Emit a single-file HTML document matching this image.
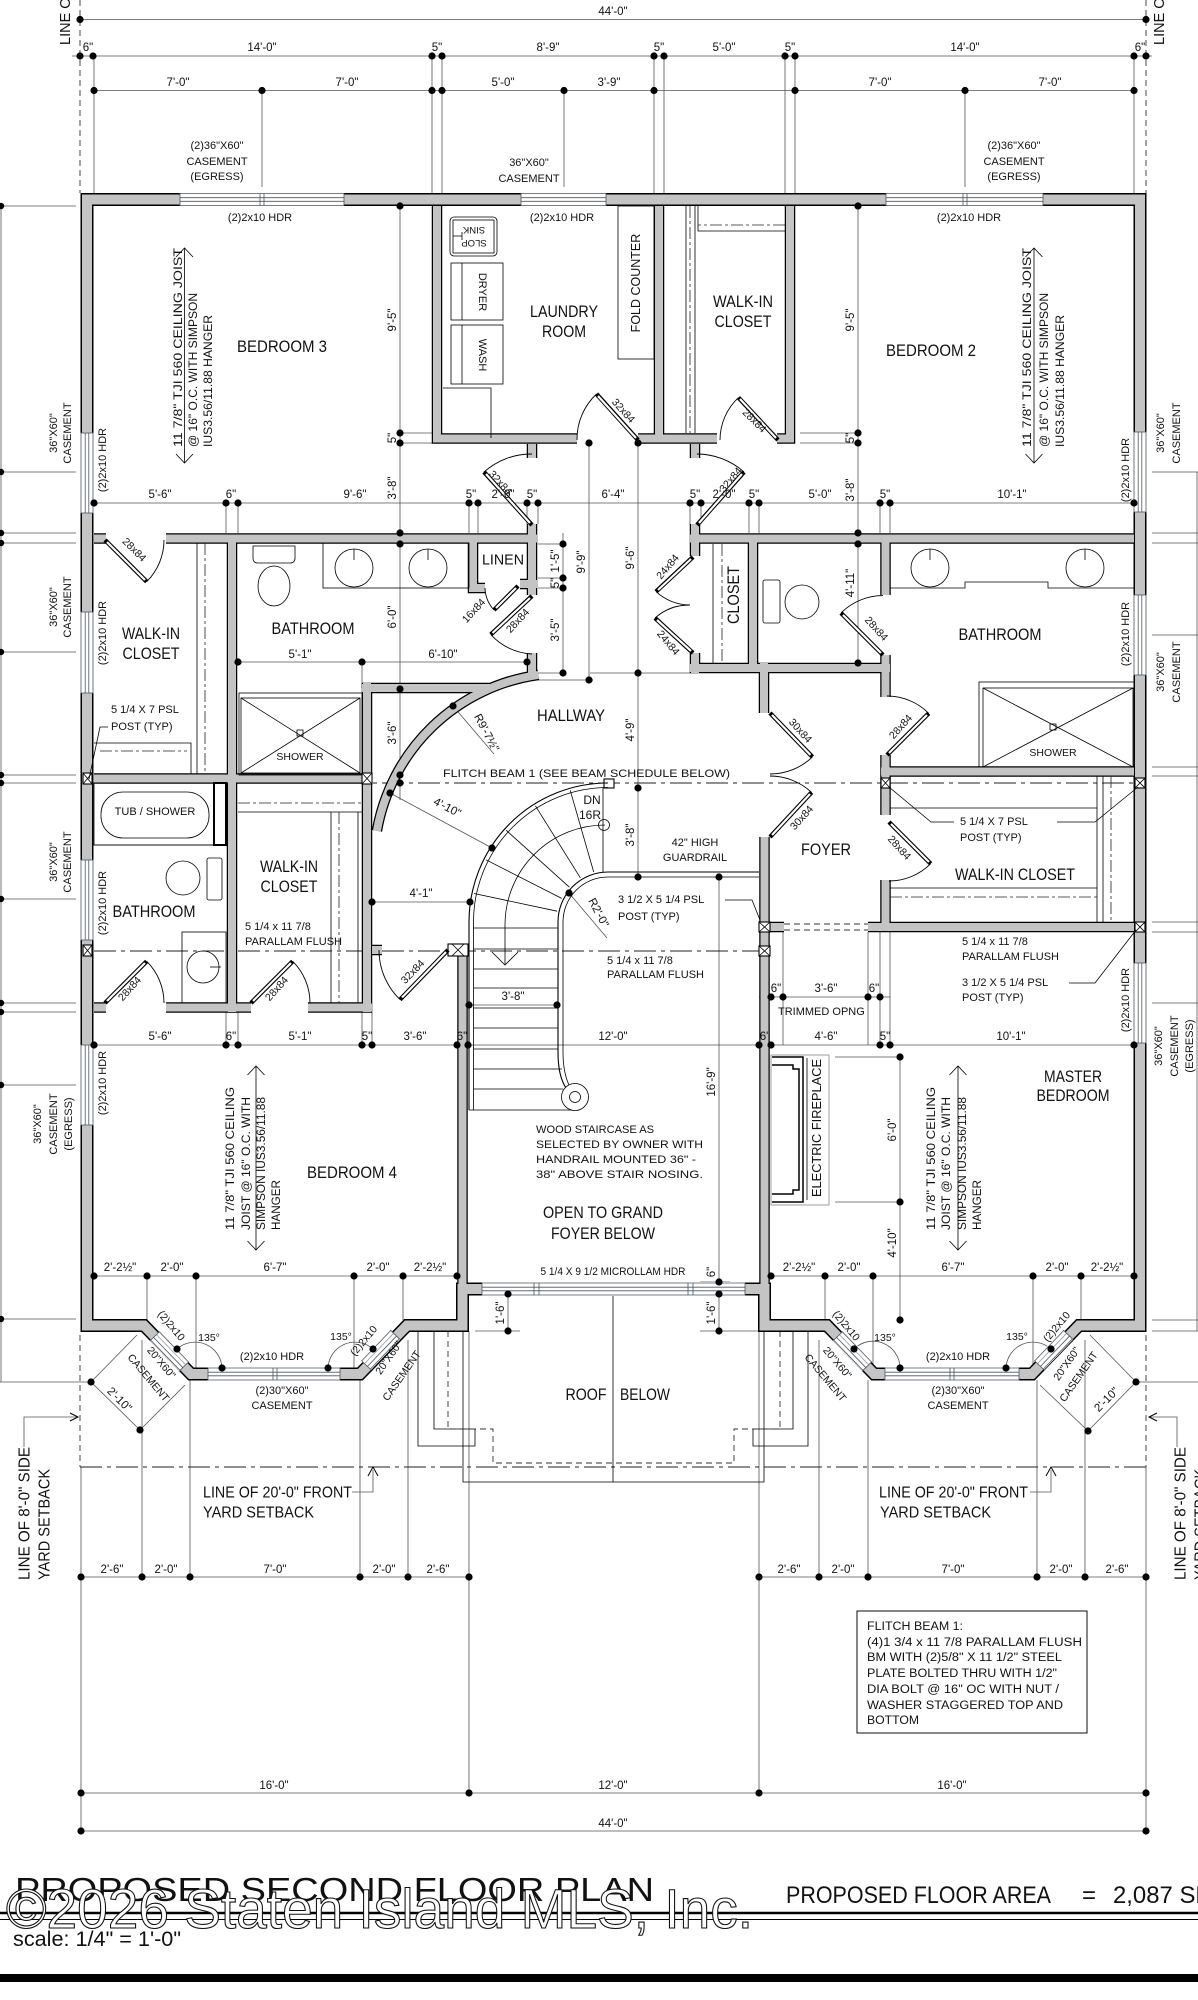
<!DOCTYPE html>
<html><head><meta charset="utf-8"><title>Proposed Second Floor Plan</title>
<style>
html,body{margin:0;padding:0;background:#fff}
svg{display:block}
text{font-family:"Liberation Sans",Arial,sans-serif;fill:#111;dominant-baseline:central}
.d{font-size:11.5px;text-anchor:middle}
.s{font-size:10.5px;text-anchor:middle}
.n{font-size:11px}
.nc{font-size:11px;text-anchor:middle}
.r{font-size:16.5px;text-anchor:middle}
.ln{stroke:#555;stroke-width:.8;fill:none}
.k{stroke:#000;stroke-width:1;fill:none}
.k8{stroke:#000;stroke-width:.8;fill:none}
.kk{stroke:#000;stroke-width:1.5;fill:none}
.dd{stroke:#222;stroke-width:1;fill:none;stroke-dasharray:22 5 4 5}
.da{stroke:#333;stroke-width:.9;fill:none;stroke-dasharray:6 4}
.ws{stroke:#000;stroke-width:13;fill:none;stroke-linejoin:miter;stroke-linecap:square}
.wf{stroke:#c4c4c4;stroke-width:10;fill:none;stroke-linejoin:miter;stroke-linecap:square}
.wi{stroke:#000;stroke-width:10.5;fill:none;stroke-linecap:butt}
.wif{stroke:#c4c4c4;stroke-width:8;fill:none;stroke-linecap:butt}
.lf{stroke:#000;stroke-width:4.4}
.lfw{stroke:#fff;stroke-width:2.2}
.arc{stroke:#000;stroke-width:.9;fill:none}
.win rect.b{fill:#fff;stroke:none}
.win line{stroke:#4a5560;stroke-width:.8}
</style></head><body>
<svg width="1198" height="2000" viewBox="0 0 1198 2000" xmlns="http://www.w3.org/2000/svg">
<rect width="1198" height="2000" fill="#fff"/>

<!-- ===== DIMENSION LINES ===== -->
<g class="ln">
<line x1="80" y1="19.5" x2="1146" y2="19.5"/>
<line x1="72" y1="56" x2="1152" y2="56"/>
<line x1="94" y1="90.5" x2="1134" y2="90.5"/>
<path d="M94 56V193M432 56V193M442 56V193M654 56V193M664 56V193M785 56V193M795 56V193M1134 56V193M262 90V187M564 90V187M965 90V187"/>
<line x1="94" y1="503" x2="1134" y2="503"/>
<path d="M226 503V533M238 503V533M469 503V533M478 503V533M527 503V524M538 503V524M690 503V524M701 503V524M749 503V533M759 503V533M880 503V533M890 503V533"/>
<line x1="400" y1="206" x2="400" y2="800"/>
<path d="M400 433H432M400 443H432"/>
<line x1="563" y1="533" x2="563" y2="673"/>
<path d="M538 544H563M538 578H563M538 588H563M538 673H563"/>
<line x1="589" y1="443" x2="589" y2="680"/>
<path d="M537 680H593"/>
<line x1="638" y1="443" x2="638" y2="877"/>
<path d="M590 673H690"/>
<line x1="858" y1="206" x2="858" y2="663"/>
<path d="M800 433H858M800 443H858"/>
<line x1="238" y1="662" x2="527" y2="662"/>
<path d="M362 662V688"/>
<line x1="372" y1="902" x2="470" y2="902"/>
<line x1="469" y1="1005" x2="557" y2="1005"/>
<line x1="94" y1="1045" x2="1134" y2="1045"/>
<path d="M226 1012V1045M238 1012V1045M362 1012V1045M372 1012V1045M880 932V1045M890 932V1045M783 932V1045M868 932V1045"/>
<line x1="759" y1="997" x2="890" y2="997"/>
<line x1="719" y1="877" x2="719" y2="1331"/>
<path d="M700 1282H730M700 1331H760M700 1294H730"/>
<line x1="508" y1="1294" x2="508" y2="1331"/>
<path d="M475 1331H520"/>
<line x1="900" y1="1057" x2="900" y2="1320"/>
<path d="M835 1057H900M835 1202H900"/>
<line x1="94" y1="1276" x2="457" y2="1276"/>
<line x1="771" y1="1276" x2="1134" y2="1276"/>
<path d="M147 1276V1320M196 1276V1368M354 1276V1368M403 1276V1320M825 1276V1320M873 1276V1368M1033 1276V1368M1081 1276V1320"/>
<path d="M142 1340V1577M190 1380V1577M360 1380V1577M408 1340V1577M819 1340V1577M868 1380V1577M1037 1380V1577M1085 1340V1577"/>
<path d="M469 1331V1793M759 1331V1793M81 1467V1831M1146 1467V1831"/>
<line x1="81" y1="1577" x2="469" y2="1577"/>
<line x1="759" y1="1577" x2="1146" y2="1577"/>
<line x1="81" y1="1793" x2="1146" y2="1793"/>
<line x1="81" y1="1831" x2="1146" y2="1831"/>
<!-- bay angle arcs -->
<path d="M177 1349A27 27 0 0 1 222 1368M328 1368A27 27 0 0 1 373 1349M854 1349A27 27 0 0 1 900 1368M1006 1368A27 27 0 0 1 1051 1349"/>
<!-- 2'-10 dims -->
<path d="M91 1382L140 1430M91 1382L137 1335M140 1430L185 1385M0 1382H91"/>
<path d="M1136 1382L1088 1431M1136 1382L1090 1335M1088 1431L1040 1385M1136 1382H1198"/>
<!-- left edge dims -->
<path d="M1 206V1382M0 206H76M0 472H76M0 533H76M0 543H76M0 652H76M0 775H76M0 783H76M0 899H76M0 1003H76M0 1012H76M0 1085H76M0 1319H76"/>
<path d="M1197 472V1331M1152 472H1198M1152 533H1198M1152 543H1198M1152 635H1198M1152 767H1198M1152 776H1198M1152 922H1198M1152 932H1198M1152 1003H1198M1152 1320H1198M1152 1331H1198"/>
<!-- stair dims -->
<path d="M390 793L492 848M453 706L494 754M569 893L607 938"/>
<path d="M352 1492H373V1470M1030 1492H1051V1470"/>
<path d="M24 1447V1417H77M1177 1447V1417H1149"/>
</g>
<path d="M368 1476L373 1467L378 1476M1046 1476L1051 1467L1056 1476M70 1413L78 1417L70 1421M1157 1413L1149 1417L1157 1421" class="k"/>
<!-- dashed property lines -->
<path d="M80 0V193M1146 0V193M80 1335V1467M1146 1335V1467" class="da" stroke-dasharray="9 5"/>
<line x1="80" y1="1467" x2="1146" y2="1467" class="dd"/>
<line x1="94" y1="783" x2="1134" y2="783" class="dd"/>
<line x1="94" y1="951" x2="764" y2="951" class="dd"/>
<path d="M784 924H868M784 930H868" class="da"/>

<!-- ===== ROOF BELOW ===== -->
<g class="k8">
<path d="M463 1331V1482H764V1331"/>
<line x1="613" y1="1295" x2="613" y2="1482"/>
<path d="M418 1331V1446H475V1429H434V1331"/>
<path d="M808 1331V1446H753V1429H793V1331"/>
</g>
<path d="M448 1331V1429H493V1463H734V1429H780V1331" class="da" stroke-dasharray="6 3"/>

<!-- ===== WALLS ===== -->
<defs>
<path id="ext" d="M482 1289H462.5V1325.5H407L360 1374H191L144 1325.5H87V199.5H1140V1325.5H1079L1032 1374H874L827 1325.5H764.5V1289H745"/>
<path id="int" d="M437 206V438.5H577M532 444V458M659 206V438.5M638 438.5H717M695 444V458M790 206V438.5H777M94 538.5H106M166 538.5H537M532 524V595M232 538V1012M473 538V588H485M520 584H537M532 653V675M362 688H491M367 683V1012M372 950H382M94 778.5H367M94 1007.5H106M166 1007.5H251M308 1007.5H372M690 538.5H1134M695 524V556M690 668H890M695 653V673M753 538V668M764 663V713M885.5 538V595M885.5 655V697M885.5 755V815M885.5 880V927M881 771.5H1134M759 927H784M868 927H1134M462.5 944V1289M764.5 837V1289M538.4 674.9A191 191 0 0 0 376.9 830.8"/>
</defs>
<use href="#ext" class="ws"/>
<use href="#int" class="wi"/>
<use href="#ext" class="wf"/>
<use href="#int" class="wif"/>

<!-- ===== WINDOWS ===== -->
<g class="win">
<g transform="translate(180,199.5)"><rect class="b" x="0" y="-7" width="164" height="14"/><line x1="0" y1="-6" x2="164" y2="-6"/><line x1="0" y1="6" x2="164" y2="6"/><line x1="0" y1="-1.8" x2="164" y2="-1.8"/><line x1="0" y1="1.8" x2="164" y2="1.8"/><line x1="0" y1="-6.5" x2="0" y2="6.5"/><line x1="164" y1="-6.5" x2="164" y2="6.5"/><line x1="80" y1="-6" x2="80" y2="6"/><line x1="84" y1="-6" x2="84" y2="6"/></g>
<g transform="translate(521,199.5)"><rect class="b" x="0" y="-7" width="85" height="14"/><line x1="0" y1="-6" x2="85" y2="-6"/><line x1="0" y1="6" x2="85" y2="6"/><line x1="0" y1="-1.8" x2="85" y2="-1.8"/><line x1="0" y1="1.8" x2="85" y2="1.8"/><line x1="0" y1="-6.5" x2="0" y2="6.5"/><line x1="85" y1="-6.5" x2="85" y2="6.5"/></g>
<g transform="translate(886,199.5)"><rect class="b" x="0" y="-7" width="157" height="14"/><line x1="0" y1="-6" x2="157" y2="-6"/><line x1="0" y1="6" x2="157" y2="6"/><line x1="0" y1="-1.8" x2="157" y2="-1.8"/><line x1="0" y1="1.8" x2="157" y2="1.8"/><line x1="0" y1="-6.5" x2="0" y2="6.5"/><line x1="157" y1="-6.5" x2="157" y2="6.5"/><line x1="77" y1="-6" x2="77" y2="6"/><line x1="81" y1="-6" x2="81" y2="6"/></g>
<g transform="translate(87,433) rotate(90)"><rect class="b" x="0" y="-7" width="80" height="14"/><line x1="0" y1="-6" x2="80" y2="-6"/><line x1="0" y1="6" x2="80" y2="6"/><line x1="0" y1="-1.8" x2="80" y2="-1.8"/><line x1="0" y1="1.8" x2="80" y2="1.8"/><line x1="0" y1="-6.5" x2="0" y2="6.5"/><line x1="80" y1="-6.5" x2="80" y2="6.5"/></g>
<g transform="translate(87,612) rotate(90)"><rect class="b" x="0" y="-7" width="81" height="14"/><line x1="0" y1="-6" x2="81" y2="-6"/><line x1="0" y1="6" x2="81" y2="6"/><line x1="0" y1="-1.8" x2="81" y2="-1.8"/><line x1="0" y1="1.8" x2="81" y2="1.8"/><line x1="0" y1="-6.5" x2="0" y2="6.5"/><line x1="81" y1="-6.5" x2="81" y2="6.5"/></g>
<g transform="translate(87,860) rotate(90)"><rect class="b" x="0" y="-7" width="80" height="14"/><line x1="0" y1="-6" x2="80" y2="-6"/><line x1="0" y1="6" x2="80" y2="6"/><line x1="0" y1="-1.8" x2="80" y2="-1.8"/><line x1="0" y1="1.8" x2="80" y2="1.8"/><line x1="0" y1="-6.5" x2="0" y2="6.5"/><line x1="80" y1="-6.5" x2="80" y2="6.5"/></g>
<g transform="translate(87,1045) rotate(90)"><rect class="b" x="0" y="-7" width="80" height="14"/><line x1="0" y1="-6" x2="80" y2="-6"/><line x1="0" y1="6" x2="80" y2="6"/><line x1="0" y1="-1.8" x2="80" y2="-1.8"/><line x1="0" y1="1.8" x2="80" y2="1.8"/><line x1="0" y1="-6.5" x2="0" y2="6.5"/><line x1="80" y1="-6.5" x2="80" y2="6.5"/></g>
<g transform="translate(1140,432) rotate(90)"><rect class="b" x="0" y="-7" width="80" height="14"/><line x1="0" y1="-6" x2="80" y2="-6"/><line x1="0" y1="6" x2="80" y2="6"/><line x1="0" y1="-1.8" x2="80" y2="-1.8"/><line x1="0" y1="1.8" x2="80" y2="1.8"/><line x1="0" y1="-6.5" x2="0" y2="6.5"/><line x1="80" y1="-6.5" x2="80" y2="6.5"/></g>
<g transform="translate(1140,595) rotate(90)"><rect class="b" x="0" y="-7" width="80" height="14"/><line x1="0" y1="-6" x2="80" y2="-6"/><line x1="0" y1="6" x2="80" y2="6"/><line x1="0" y1="-1.8" x2="80" y2="-1.8"/><line x1="0" y1="1.8" x2="80" y2="1.8"/><line x1="0" y1="-6.5" x2="0" y2="6.5"/><line x1="80" y1="-6.5" x2="80" y2="6.5"/></g>
<g transform="translate(1140,963) rotate(90)"><rect class="b" x="0" y="-7" width="80" height="14"/><line x1="0" y1="-6" x2="80" y2="-6"/><line x1="0" y1="6" x2="80" y2="6"/><line x1="0" y1="-1.8" x2="80" y2="-1.8"/><line x1="0" y1="1.8" x2="80" y2="1.8"/><line x1="0" y1="-6.5" x2="0" y2="6.5"/><line x1="80" y1="-6.5" x2="80" y2="6.5"/></g>
<g transform="translate(482,1289)"><rect class="b" x="0" y="-7" width="263" height="14"/><line x1="0" y1="-6" x2="263" y2="-6"/><line x1="0" y1="6" x2="263" y2="6"/><line x1="0" y1="-1.8" x2="263" y2="-1.8"/><line x1="0" y1="1.8" x2="263" y2="1.8"/><line x1="0" y1="-6.5" x2="0" y2="6.5"/><line x1="263" y1="-6.5" x2="263" y2="6.5"/><line x1="52" y1="-6" x2="52" y2="6"/><line x1="57" y1="-6" x2="57" y2="6"/><line x1="206" y1="-6" x2="206" y2="6"/><line x1="211" y1="-6" x2="211" y2="6"/></g>
<!-- bay windows -->
<g transform="translate(155,1336) rotate(45.9)"><rect class="b" x="0" y="-7" width="42" height="14"/><line x1="0" y1="-6" x2="42" y2="-6"/><line x1="0" y1="6" x2="42" y2="6"/><line x1="0" y1="-2" x2="42" y2="-2" stroke-width="2" style="stroke:#999"/><line x1="0" y1="2" x2="42" y2="2"/><line x1="0" y1="-6.5" x2="0" y2="6.5"/><line x1="42" y1="-6.5" x2="42" y2="6.5"/></g>
<g transform="translate(208,1374)"><rect class="b" x="0" y="-7" width="132" height="14"/><line x1="0" y1="-6" x2="132" y2="-6"/><line x1="0" y1="6" x2="132" y2="6"/><line x1="0" y1="-1.8" x2="132" y2="-1.8"/><line x1="0" y1="1.8" x2="132" y2="1.8"/><line x1="0" y1="-6.5" x2="0" y2="6.5"/><line x1="132" y1="-6.5" x2="132" y2="6.5"/><line x1="65" y1="-6" x2="65" y2="6"/><line x1="69" y1="-6" x2="69" y2="6"/></g>
<g transform="translate(366,1365) rotate(-46.2)"><rect class="b" x="0" y="-7" width="42" height="14"/><line x1="0" y1="-6" x2="42" y2="-6"/><line x1="0" y1="6" x2="42" y2="6"/><line x1="0" y1="-2" x2="42" y2="-2" stroke-width="2" style="stroke:#999"/><line x1="0" y1="2" x2="42" y2="2"/><line x1="0" y1="-6.5" x2="0" y2="6.5"/><line x1="42" y1="-6.5" x2="42" y2="6.5"/></g>
<g transform="translate(838,1336) rotate(45.9)"><rect class="b" x="0" y="-7" width="42" height="14"/><line x1="0" y1="-6" x2="42" y2="-6"/><line x1="0" y1="6" x2="42" y2="6"/><line x1="0" y1="-2" x2="42" y2="-2" stroke-width="2" style="stroke:#999"/><line x1="0" y1="2" x2="42" y2="2"/><line x1="0" y1="-6.5" x2="0" y2="6.5"/><line x1="42" y1="-6.5" x2="42" y2="6.5"/></g>
<g transform="translate(885,1374)"><rect class="b" x="0" y="-7" width="134" height="14"/><line x1="0" y1="-6" x2="134" y2="-6"/><line x1="0" y1="6" x2="134" y2="6"/><line x1="0" y1="-1.8" x2="134" y2="-1.8"/><line x1="0" y1="1.8" x2="134" y2="1.8"/><line x1="0" y1="-6.5" x2="0" y2="6.5"/><line x1="134" y1="-6.5" x2="134" y2="6.5"/><line x1="65" y1="-6" x2="65" y2="6"/><line x1="69" y1="-6" x2="69" y2="6"/></g>
<g transform="translate(1039,1365) rotate(-46.2)"><rect class="b" x="0" y="-7" width="42" height="14"/><line x1="0" y1="-6" x2="42" y2="-6"/><line x1="0" y1="6" x2="42" y2="6"/><line x1="0" y1="-2" x2="42" y2="-2" stroke-width="2" style="stroke:#999"/><line x1="0" y1="2" x2="42" y2="2"/><line x1="0" y1="-6.5" x2="0" y2="6.5"/><line x1="42" y1="-6.5" x2="42" y2="6.5"/></g>
</g>

<!-- ===== POSTS ===== -->
<g fill="#fff" stroke="#000" stroke-width="1.1">
<rect x="83" y="773" width="9" height="11"/><rect x="362" y="773" width="10" height="11"/><rect x="83" y="945" width="9" height="11"/><rect x="448" y="944" width="20" height="12"/><rect x="759" y="922" width="11" height="10"/><rect x="759" y="946" width="11" height="10"/><rect x="881" y="778" width="9" height="10"/><rect x="1135" y="778" width="10" height="10"/><rect x="1135" y="922" width="10" height="10"/><rect x="604" y="779" width="10" height="9"/>
</g>
<path class="k8" d="M83 773L92 784M92 773L83 784M362 773L372 784M372 773L362 784M83 945L92 956M92 945L83 956M452 944L464 956M464 944L452 956M759 922L770 932M770 922L759 932M759 946L770 956M770 946L759 956M881 778L890 788M890 778L881 788M1135 778L1145 788M1145 778L1135 788M1135 922L1145 932M1145 922L1135 932"/>

<!-- ===== DOORS ===== -->
<g>
<line class="lf" x1="638" y1="440" x2="596.5" y2="394"/><line class="lfw" x1="636" y1="438" x2="598" y2="396"/>
<line class="lf" x1="532" y1="525" x2="484" y2="472"/><line class="lfw" x1="530" y1="523" x2="486" y2="474"/>
<line class="lf" x1="697" y1="525" x2="744" y2="472"/><line class="lfw" x1="699" y1="523" x2="742" y2="474"/>
<line class="lf" x1="778" y1="440" x2="738.5" y2="397.6"/><line class="lfw" x1="776" y1="438" x2="740" y2="399"/>
<line class="lf" x1="105" y1="540" x2="146.7" y2="581.7"/><line class="lfw" x1="107" y1="542" x2="145" y2="580"/>
<line class="lf" x1="518" y1="586" x2="494" y2="610"/><line class="lfw" x1="516" y1="588" x2="496" y2="608"/>
<line class="lf" x1="532" y1="596" x2="490.8" y2="634.5"/><line class="lfw" x1="530" y1="598" x2="492.5" y2="633"/>
<line class="lf" x1="693" y1="557" x2="656" y2="591.6"/><line class="lfw" x1="691" y1="559" x2="658" y2="590"/>
<line class="lf" x1="693" y1="653" x2="655" y2="618"/><line class="lfw" x1="691" y1="651" x2="657" y2="620"/>
<line class="lf" x1="883" y1="655" x2="841" y2="613"/><line class="lfw" x1="881" y1="653" x2="843" y2="615"/>
<line class="lf" x1="770" y1="713" x2="812.4" y2="756.9"/><line class="lfw" x1="772" y1="715" x2="810.5" y2="755"/>
<line class="lf" x1="770" y1="837" x2="811.6" y2="792.4"/><line class="lfw" x1="772" y1="835" x2="810" y2="794"/>
<line class="lf" x1="887" y1="755" x2="928.7" y2="713.3"/><line class="lfw" x1="889" y1="753" x2="927" y2="715"/>
<line class="lf" x1="889" y1="822" x2="930.7" y2="863.7"/><line class="lfw" x1="891" y1="824" x2="929" y2="862"/>
<line class="lf" x1="105" y1="1003" x2="146.7" y2="961.3"/><line class="lfw" x1="107" y1="1001" x2="145" y2="963"/>
<line class="lf" x1="251" y1="1003" x2="292.7" y2="961.3"/><line class="lfw" x1="253" y1="1001" x2="291" y2="963"/>
<line class="lf" x1="448" y1="950" x2="400" y2="999.6"/><line class="lfw" x1="446" y1="952" x2="402" y2="997.5"/>
</g>
<g class="arc">
<path d="M596.5 394A62 62 0 0 0 577 440"/>
<path d="M484 472A71 71 0 0 1 532 454"/>
<path d="M744 472A71 71 0 0 0 697 454"/>
<path d="M738.5 397.6A58 58 0 0 0 720 440"/>
<path d="M146.7 581.7A59 59 0 0 0 164 540"/>
<path d="M494 610A34 34 0 0 1 485 588"/>
<path d="M490.8 634.5A59 59 0 0 0 532 654"/>
<path d="M656 591.6A50 50 0 0 0 690 605"/>
<path d="M655 618A52 52 0 0 1 690 605"/>
<path d="M841 613A59.4 59.4 0 0 1 883 595.6"/>
<path d="M812.4 756.9A61 61 0 0 1 770 774"/>
<path d="M811.6 792.4A61 61 0 0 0 770 776"/>
<path d="M928.7 713.3A59 59 0 0 0 887 696"/>
<path d="M930.7 863.7A59 59 0 0 1 889 881"/>
<path d="M146.7 961.3A59 59 0 0 1 164 1003"/>
<path d="M292.7 961.3A59 59 0 0 1 310 1003"/>
<path d="M400 999.6A69 69 0 0 1 379 950"/>
</g>

<!-- ===== FIXTURES ===== -->
<g class="k8">
<!-- laundry -->
<rect x="450" y="217" width="47" height="39" rx="4"/><rect x="453" y="220" width="41" height="33"/><path d="M453 236H462M462 232V240"/>
<rect x="451" y="263" width="52" height="57"/><line x1="462" y1="263" x2="462" y2="320"/>
<rect x="451" y="325" width="52" height="59"/><line x1="462" y1="325" x2="462" y2="384"/>
<path d="M443 388H491V438"/>
<rect x="618" y="206" width="36" height="153"/>
<!-- walk-in closet top center -->
<path d="M686 206V433M695 206V433M698 206V231H785"/>
<!-- upper-left bath -->
<path d="M253 546H295V558Q295 563 290 563H258Q253 563 253 558Z"/>
<ellipse cx="274" cy="586" rx="16" ry="20"/>
<rect x="323" y="543" width="146" height="45"/>
<circle cx="354" cy="568" r="19"/><circle cx="428" cy="568" r="19"/>
<path d="M354 549V560M428 549V560"/>
<rect x="239" y="693" width="123" height="82"/><rect x="241" y="698" width="119" height="75"/>
<path d="M241 698L360 773M360 698L241 773"/><rect x="297" y="730" width="6" height="6"/>
<!-- upper-left walk-in -->
<path d="M197 543V774M94 743H191V774"/>
<!-- lower-left bath -->
<rect x="94" y="783" width="120" height="62"/><rect x="101" y="792" width="108" height="46" rx="22"/>
<rect x="214" y="783" width="12" height="62" stroke-width="2"/>
<line x1="94" y1="845" x2="226" y2="845"/>
<rect x="207" y="858" width="15" height="42" rx="2"/><circle cx="183" cy="878" r="17"/>
<rect x="182" y="932" width="44" height="71"/><circle cx="203" cy="967" r="16"/><path d="M210 967H221"/>
<!-- lower walk-in -->
<path d="M238 812H362M331 812V1003M358 812V1003"/>
<!-- right closet -->
<path d="M713 544V663"/>
<!-- right toilet -->
<rect x="763" y="580" width="17" height="43" rx="2"/><circle cx="802" cy="602" r="17"/>
<!-- right bath -->
<path d="M890 588H965V582H1048V588H1134"/>
<circle cx="930" cy="568" r="19"/><circle cx="1085" cy="568" r="19"/><path d="M930 549V560M1085 549V560"/>
<rect x="979" y="682" width="155" height="85"/><rect x="983" y="688" width="150" height="79"/>
<path d="M983 688L1133 767M1133 688L983 767"/><rect x="1050" y="724" width="6" height="6"/>
<!-- right walk-in -->
<path d="M890 808H1097M890 888H1097M1097 776V922M1103 776V922"/>
<!-- fireplace -->
<rect x="771" y="1055" width="58" height="150" stroke="#888"/>
</g>
<path d="M722 544V663M690 206V433M785 225H698M205 543V774M100 751H187M238 803H362M339 812V1003M1111 776V922M890 897H1097" stroke="#222" stroke-width=".8" fill="none" stroke-dasharray="12 3 3 3"/>
<path d="M772 1057H803V1202H772M772 1065H793V1069H799V1190H793V1194H772" class="kk"/>
<line x1="807" y1="1058" x2="807" y2="1200" class="k8"/>

<!-- ===== STAIRS ===== -->
<g class="k8">
<path d="M608 783A139 139 0 0 0 469 922V1110" stroke-width="1.1"/>
<path d="M608 787.5A134.5 134.5 0 0 0 473.5 922V1110"/>
<path d="M759 872H608A50 50 0 0 0 558 922V1052Q558 1076 566 1088" stroke-width="1.1"/>
<path d="M759 877H608A45 45 0 0 0 563 922V1052Q563 1072 569 1085"/>
<line x1="603" y1="788" x2="603" y2="872"/>
<path d="M593.7 872L570.2 790.3M580.4 877.9L535.4 805.8M569.4 887.2L506.2 830.3M561.7 898.4L486 859.8M557.1 911.2L474 893.5"/>
<path d="M473.5 928H558M473.5 949H558M473.5 969H558M473.5 988H558M473.5 1008H558M473.5 1028H558M473.5 1049H558M473.5 1069H562M473.5 1089H563M469 1110H575"/>
<path d="M605 825A100 100 0 0 0 505 925V964M492 952L505 965L518 952"/>
<circle cx="604" cy="825" r="5.5"/>
<circle cx="575" cy="1097" r="13.5" fill="#fff"/><circle cx="575" cy="1097" r="5.5"/>
</g>

<!-- ===== DOTS ===== -->
<g fill="#000">
<circle cx="80" cy="19.5" r="3.6"/><circle cx="1146" cy="19.5" r="3.6"/>
<circle cx="80" cy="56" r="3.6"/><circle cx="93" cy="56" r="3.6"/><circle cx="432" cy="56" r="3.6"/><circle cx="442" cy="56" r="3.6"/><circle cx="654" cy="56" r="3.6"/><circle cx="664" cy="56" r="3.6"/><circle cx="785" cy="56" r="3.6"/><circle cx="795" cy="56" r="3.6"/><circle cx="1134" cy="56" r="3.6"/><circle cx="1146" cy="56" r="3.6"/>
<circle cx="94" cy="90.5" r="3.6"/><circle cx="262" cy="90.5" r="3.6"/><circle cx="432" cy="90.5" r="3.6"/><circle cx="442" cy="90.5" r="3.6"/><circle cx="564" cy="90.5" r="3.6"/><circle cx="654" cy="90.5" r="3.6"/><circle cx="795" cy="90.5" r="3.6"/><circle cx="965" cy="90.5" r="3.6"/><circle cx="1134" cy="90.5" r="3.6"/>
<circle cx="94" cy="503" r="3.6"/><circle cx="226" cy="503" r="3.6"/><circle cx="238" cy="503" r="3.6"/><circle cx="469" cy="503" r="3.6"/><circle cx="478" cy="503" r="3.6"/><circle cx="527" cy="503" r="3.6"/><circle cx="538" cy="503" r="3.6"/><circle cx="690" cy="503" r="3.6"/><circle cx="701" cy="503" r="3.6"/><circle cx="749" cy="503" r="3.6"/><circle cx="759" cy="503" r="3.6"/><circle cx="880" cy="503" r="3.6"/><circle cx="890" cy="503" r="3.6"/><circle cx="1134" cy="503" r="3.6"/>
<circle cx="400" cy="206" r="3.6"/><circle cx="400" cy="433" r="3.6"/><circle cx="400" cy="443" r="3.6"/><circle cx="400" cy="533" r="3.6"/><circle cx="400" cy="544" r="3.6"/><circle cx="400" cy="689" r="3.6"/><circle cx="400" cy="775" r="3.6"/><circle cx="400" cy="783" r="3.6"/>
<circle cx="563" cy="544" r="3.6"/><circle cx="563" cy="578" r="3.6"/><circle cx="563" cy="588" r="3.6"/><circle cx="563" cy="673" r="3.6"/><circle cx="589" cy="443" r="3.6"/><circle cx="589" cy="680" r="3.6"/>
<circle cx="638" cy="443" r="3.6"/><circle cx="638" cy="673" r="3.6"/><circle cx="638" cy="788" r="3.6"/><circle cx="638" cy="877" r="3.6"/>
<circle cx="858" cy="206" r="3.6"/><circle cx="858" cy="433" r="3.6"/><circle cx="858" cy="443" r="3.6"/><circle cx="858" cy="533" r="3.6"/><circle cx="858" cy="544" r="3.6"/><circle cx="858" cy="663" r="3.6"/>
<circle cx="238" cy="662" r="3.6"/><circle cx="362" cy="662" r="3.6"/><circle cx="527" cy="662" r="3.6"/>
<circle cx="372" cy="902" r="3.6"/><circle cx="470" cy="902" r="3.6"/><circle cx="453" cy="706" r="3.6"/><circle cx="390" cy="793" r="3.6"/><circle cx="492" cy="848" r="3.6"/><circle cx="569" cy="893" r="3.6"/><circle cx="719" cy="877" r="3.6"/>
<circle cx="469" cy="1005" r="3.6"/><circle cx="557" cy="1005" r="3.6"/>
<circle cx="94" cy="1045" r="3.6"/><circle cx="226" cy="1045" r="3.6"/><circle cx="238" cy="1045" r="3.6"/><circle cx="362" cy="1045" r="3.6"/><circle cx="372" cy="1045" r="3.6"/><circle cx="457" cy="1045" r="3.6"/><circle cx="468" cy="1045" r="3.6"/><circle cx="759" cy="1045" r="3.6"/><circle cx="771" cy="1045" r="3.6"/><circle cx="880" cy="1045" r="3.6"/><circle cx="890" cy="1045" r="3.6"/><circle cx="1134" cy="1045" r="3.6"/>
<circle cx="771" cy="997" r="3.6"/><circle cx="783" cy="997" r="3.6"/><circle cx="868" cy="997" r="3.6"/><circle cx="880" cy="997" r="3.6"/>
<circle cx="719" cy="1282" r="3.6"/><circle cx="719" cy="1294" r="3.6"/><circle cx="719" cy="1331" r="3.6"/><circle cx="508" cy="1294" r="3.6"/><circle cx="508" cy="1331" r="3.6"/>
<circle cx="900" cy="1057" r="3.6"/><circle cx="900" cy="1202" r="3.6"/><circle cx="900" cy="1320" r="3.6"/>
<circle cx="94" cy="1276" r="3.6"/><circle cx="147" cy="1276" r="3.6"/><circle cx="196" cy="1276" r="3.6"/><circle cx="354" cy="1276" r="3.6"/><circle cx="403" cy="1276" r="3.6"/><circle cx="457" cy="1276" r="3.6"/><circle cx="771" cy="1276" r="3.6"/><circle cx="825" cy="1276" r="3.6"/><circle cx="873" cy="1276" r="3.6"/><circle cx="1033" cy="1276" r="3.6"/><circle cx="1081" cy="1276" r="3.6"/><circle cx="1134" cy="1276" r="3.6"/>
<circle cx="177" cy="1349" r="3.6"/><circle cx="222" cy="1368" r="3.6"/><circle cx="328" cy="1368" r="3.6"/><circle cx="373" cy="1349" r="3.6"/><circle cx="854" cy="1349" r="3.6"/><circle cx="900" cy="1368" r="3.6"/><circle cx="1006" cy="1368" r="3.6"/><circle cx="1051" cy="1349" r="3.6"/>
<circle cx="91" cy="1382" r="3.6"/><circle cx="140" cy="1430" r="3.6"/><circle cx="1136" cy="1382" r="3.6"/><circle cx="1088" cy="1431" r="3.6"/>
<circle cx="81" cy="1577" r="3.6"/><circle cx="142" cy="1577" r="3.6"/><circle cx="190" cy="1577" r="3.6"/><circle cx="360" cy="1577" r="3.6"/><circle cx="408" cy="1577" r="3.6"/><circle cx="469" cy="1577" r="3.6"/><circle cx="759" cy="1577" r="3.6"/><circle cx="819" cy="1577" r="3.6"/><circle cx="868" cy="1577" r="3.6"/><circle cx="1037" cy="1577" r="3.6"/><circle cx="1085" cy="1577" r="3.6"/><circle cx="1146" cy="1577" r="3.6"/>
<circle cx="81" cy="1793" r="3.6"/><circle cx="469" cy="1793" r="3.6"/><circle cx="759" cy="1793" r="3.6"/><circle cx="1146" cy="1793" r="3.6"/><circle cx="81" cy="1831" r="3.6"/><circle cx="1146" cy="1831" r="3.6"/>
<circle cx="1" cy="206" r="3.2"/><circle cx="1" cy="472" r="3.2"/><circle cx="1" cy="533" r="3.2"/><circle cx="1" cy="543" r="3.2"/><circle cx="1" cy="652" r="3.2"/><circle cx="1" cy="775" r="3.2"/><circle cx="1" cy="783" r="3.2"/><circle cx="1" cy="899" r="3.2"/><circle cx="1" cy="1003" r="3.2"/><circle cx="1" cy="1012" r="3.2"/><circle cx="1" cy="1085" r="3.2"/><circle cx="1" cy="1319" r="3.2"/>
</g>

<!-- ===== TEXT: top dims ===== -->
<g class="d">
<text x="613" y="12">44'-0"</text>
<text x="88" y="48">6"</text><text x="262" y="48">14'-0"</text><text x="437" y="48">5"</text><text x="548" y="48">8'-9"</text><text x="659" y="48">5"</text><text x="724" y="48">5'-0"</text><text x="790" y="48">5"</text><text x="965" y="48">14'-0"</text><text x="1140" y="48">6"</text>
<text x="178" y="83">7'-0"</text><text x="347" y="83">7'-0"</text><text x="503" y="83">5'-0"</text><text x="609" y="83">3'-9"</text><text x="880" y="83">7'-0"</text><text x="1050" y="83">7'-0"</text>
<text x="160" y="495">5'-6"</text><text x="231" y="495">6"</text><text x="355" y="495">9'-6"</text><text x="471" y="495">5"</text><text x="503" y="495">2'-0"</text><text x="532" y="495">5"</text><text x="613" y="495">6'-4"</text><text x="695" y="495">5"</text><text x="724" y="495">2'-0"</text><text x="754" y="495">5"</text><text x="820" y="495">5'-0"</text><text x="885" y="495">5"</text><text x="1012" y="495">10'-1"</text>
<text x="300" y="655">5'-1"</text><text x="443" y="655">6'-10"</text>
<text x="421" y="894">4'-1"</text><text x="513" y="997">3'-8"</text>
<text x="160" y="1037">5'-6"</text><text x="231" y="1037">6"</text><text x="300" y="1037">5'-1"</text><text x="367" y="1037">5"</text><text x="415" y="1037">3'-6"</text><text x="462" y="1037">6"</text><text x="613" y="1037">12'-0"</text><text x="765" y="1037">6"</text><text x="826" y="1037">4'-6"</text><text x="885" y="1037">5"</text><text x="1011" y="1037">10'-1"</text>
<text x="776" y="989">6"</text><text x="826" y="989">3'-6"</text><text x="874" y="989">6"</text>
<text x="120" y="1268">2'-2½"</text><text x="172" y="1268">2'-0"</text><text x="275" y="1268">6'-7"</text><text x="378" y="1268">2'-0"</text><text x="430" y="1268">2'-2½"</text>
<text x="799" y="1268">2'-2½"</text><text x="849" y="1268">2'-0"</text><text x="953" y="1268">6'-7"</text><text x="1057" y="1268">2'-0"</text><text x="1107" y="1268">2'-2½"</text>
<text x="112" y="1570">2'-6"</text><text x="166" y="1570">2'-0"</text><text x="275" y="1570">7'-0"</text><text x="384" y="1570">2'-0"</text><text x="438" y="1570">2'-6"</text>
<text x="789" y="1570">2'-6"</text><text x="843" y="1570">2'-0"</text><text x="953" y="1570">7'-0"</text><text x="1061" y="1570">2'-0"</text><text x="1117" y="1570">2'-6"</text>
<text x="274" y="1786">16'-0"</text><text x="613" y="1786">12'-0"</text><text x="952" y="1786">16'-0"</text>
<text x="613" y="1824">44'-0"</text>
<!-- rotated dims -->
<text transform="translate(393,320) rotate(-90)">9'-5"</text><text transform="translate(393,438) rotate(-90)">5"</text><text transform="translate(393,488) rotate(-90)">3'-8"</text><text transform="translate(393,617) rotate(-90)">6'-0"</text><text transform="translate(393,733) rotate(-90)">3'-6"</text>
<text transform="translate(556,561) rotate(-90)">1'-5"</text><text transform="translate(556,583) rotate(-90)">5"</text><text transform="translate(556,630) rotate(-90)">3'-5"</text>
<text transform="translate(582,562) rotate(-90)">9'-9"</text>
<text transform="translate(631,558) rotate(-90)">9'-6"</text><text transform="translate(631,730) rotate(-90)">4'-9"</text><text transform="translate(631,835) rotate(-90)">3'-8"</text>
<text transform="translate(851,320) rotate(-90)">9'-5"</text><text transform="translate(851,438) rotate(-90)">5"</text><text transform="translate(851,490) rotate(-90)">3'-8"</text><text transform="translate(851,583) rotate(-90)">4'-11"</text>
<text transform="translate(712,1082) rotate(-90)">16'-9"</text><text transform="translate(712,1272) rotate(-90)">6"</text><text transform="translate(712,1313) rotate(-90)">1'-6"</text>
<text transform="translate(501,1313) rotate(-90)">1'-6"</text>
<text transform="translate(893,1130) rotate(-90)">6'-0"</text><text transform="translate(893,1243) rotate(-90)">4'-10"</text>
<text transform="translate(447,808) rotate(27)">4'-10"</text>
<text transform="translate(486,733) rotate(62)">R9'-7½"</text>
<text transform="translate(598,913) rotate(62)">R2'-0"</text>
<text transform="translate(119,1400) rotate(45)">2'-10"</text>
<text transform="translate(1107,1400) rotate(-45)">2'-10"</text>
</g>

<!-- door labels -->
<g class="s">
<text transform="translate(623,411) rotate(48)">32x84</text>
<text transform="translate(500,483) rotate(48)">32x84</text>
<text transform="translate(731,480) rotate(-50)">32x84</text>
<text transform="translate(754,421) rotate(45)">28x84</text>
<text transform="translate(134,550) rotate(45)">28x84</text>
<text transform="translate(474,611) rotate(-47)">16x84</text>
<text transform="translate(518,621) rotate(-47)">28x84</text>
<text transform="translate(668,567) rotate(-50)">24x84</text>
<text transform="translate(668,643) rotate(50)">24x84</text>
<text transform="translate(876,629) rotate(48)">28x84</text>
<text transform="translate(800,731) rotate(48)">30x84</text>
<text transform="translate(802,818) rotate(-48)">30x84</text>
<text transform="translate(901,727) rotate(-48)">28x84</text>
<text transform="translate(899,848) rotate(48)">28x84</text>
<text transform="translate(130,989) rotate(-48)">28x84</text>
<text transform="translate(277,989) rotate(-48)">28x84</text>
<text transform="translate(413,972) rotate(-46)">32x84</text>
<text x="209" y="1338">135°</text><text x="341" y="1337">135°</text><text x="885" y="1338">135°</text><text x="1017" y="1337">135°</text>
<text transform="translate(171,1326) rotate(50)">(2)2x10</text><text transform="translate(364,1341) rotate(-50)">(2)2x10</text>
<text transform="translate(846,1326) rotate(50)">(2)2x10</text><text transform="translate(1057,1327) rotate(-50)">(2)2x10</text>
<text transform="translate(161,1363) rotate(50)">20"X60"</text><text transform="translate(148,1378) rotate(50)">CASEMENT</text>
<text transform="translate(389,1358) rotate(-55)">20"X60"</text><text transform="translate(402,1376) rotate(-55)">CASEMENT</text>
<text transform="translate(837,1363) rotate(50)">20"X60"</text><text transform="translate(825,1378) rotate(50)">CASEMENT</text>
<text transform="translate(1067,1364) rotate(-55)">20"X60"</text><text transform="translate(1079,1377) rotate(-55)">CASEMENT</text>
</g>

<!-- notes -->
<g class="nc">
<text x="217" y="146">(2)36"X60"</text><text x="217" y="162">CASEMENT</text><text x="217" y="177">(EGRESS)</text>
<text x="529" y="163">36"X60"</text><text x="529" y="179">CASEMENT</text>
<text x="1014" y="146">(2)36"X60"</text><text x="1014" y="162">CASEMENT</text><text x="1014" y="177">(EGRESS)</text>
<text x="260" y="218">(2)2x10 HDR</text><text x="562" y="218">(2)2x10 HDR</text><text x="969" y="218">(2)2x10 HDR</text>
<text transform="translate(103,460) rotate(-90)">(2)2x10 HDR</text><text transform="translate(103,633) rotate(-90)">(2)2x10 HDR</text><text transform="translate(103,903) rotate(-90)">(2)2x10 HDR</text><text transform="translate(103,1083) rotate(-90)">(2)2x10 HDR</text>
<text transform="translate(1126,470) rotate(-90)">(2)2x10 HDR</text><text transform="translate(1126,634) rotate(-90)">(2)2x10 HDR</text><text transform="translate(1126,1000) rotate(-90)">(2)2x10 HDR</text>
<text transform="translate(54,433) rotate(-90)">36"X60"</text><text transform="translate(68,433) rotate(-90)">CASEMENT</text>
<text transform="translate(54,607) rotate(-90)">36"X60"</text><text transform="translate(68,607) rotate(-90)">CASEMENT</text>
<text transform="translate(54,862) rotate(-90)">36"X60"</text><text transform="translate(68,862) rotate(-90)">CASEMENT</text>
<text transform="translate(38,1124) rotate(-90)">36"X60"</text><text transform="translate(54,1124) rotate(-90)">CASEMENT</text><text transform="translate(69,1124) rotate(-90)">(EGRESS)</text>
<text transform="translate(1161,433) rotate(-90)">36"X60"</text><text transform="translate(1177,433) rotate(-90)">CASEMENT</text>
<text transform="translate(1161,672) rotate(-90)">36"X60"</text><text transform="translate(1177,672) rotate(-90)">CASEMENT</text>
<text transform="translate(1159,1046) rotate(-90)">36"X60"</text><text transform="translate(1175,1046) rotate(-90)">CASEMENT</text><text transform="translate(1190,1046) rotate(-90)">(EGRESS)</text>
<text transform="translate(636,283) rotate(-90)" style="font-size:12.5px">FOLD COUNTER</text>
<text transform="translate(482,292) rotate(90)">DRYER</text>
<text transform="translate(482,355) rotate(90)">WASH</text>
<text transform="translate(474,236) rotate(180)" style="font-size:9.5px"><tspan x="0" y="-7">SLOP</tspan><tspan x="0" y="6">SINK</tspan></text>
<text transform="translate(817,1128) rotate(-90)" textLength="138" lengthAdjust="spacingAndGlyphs" style="font-size:12.5px">ELECTRIC FIREPLACE</text>
<text x="300" y="757" style="font-size:10.5px">SHOWER</text>
<text x="1053" y="753" style="font-size:10.5px">SHOWER</text>
<text x="155" y="812" style="font-size:11px">TUB / SHOWER</text>
<text x="592" y="800" style="font-size:12px">DN</text><text x="590" y="815" style="font-size:12px">16R</text>
<text x="695" y="843">42" HIGH</text><text x="695" y="858">GUARDRAIL</text>
<text x="613" y="1272" textLength="145" lengthAdjust="spacingAndGlyphs">5 1/4 X 9 1/2 MICROLLAM HDR</text>
<text x="272" y="1357">(2)2x10 HDR</text><text x="282" y="1391">(2)30"X60"</text><text x="282" y="1406">CASEMENT</text>
<text x="958" y="1357">(2)2x10 HDR</text><text x="958" y="1391">(2)30"X60"</text><text x="958" y="1406">CASEMENT</text>
</g>
<g class="n">
<text x="443" y="774" textLength="287" lengthAdjust="spacingAndGlyphs">FLITCH BEAM 1 (SEE BEAM SCHEDULE BELOW)</text>
<text x="111" y="710">5 1/4 X 7 PSL</text><text x="111" y="727">POST (TYP)</text>
<text x="245" y="927">5 1/4 x 11 7/8</text><text x="245" y="942">PARALLAM FLUSH</text>
<text x="618" y="900">3 1/2 X 5 1/4 PSL</text><text x="618" y="917">POST (TYP)</text>
<text x="607" y="961">5 1/4 x 11 7/8</text><text x="607" y="975">PARALLAM FLUSH</text>
<text x="960" y="822">5 1/4 X 7 PSL</text><text x="960" y="838">POST (TYP)</text>
<text x="962" y="942">5 1/4 x 11 7/8</text><text x="962" y="957">PARALLAM FLUSH</text>
<text x="962" y="983">3 1/2 X 5 1/4 PSL</text><text x="962" y="998">POST (TYP)</text>
<text x="778" y="1012">TRIMMED OPNG</text>
<text x="536" y="1130" textLength="118" lengthAdjust="spacingAndGlyphs">WOOD STAIRCASE AS</text>
<text x="536" y="1145" textLength="167" lengthAdjust="spacingAndGlyphs">SELECTED BY OWNER WITH</text>
<text x="536" y="1160" textLength="160" lengthAdjust="spacingAndGlyphs">HANDRAIL MOUNTED 36" -</text>
<text x="536" y="1175" textLength="167" lengthAdjust="spacingAndGlyphs">38" ABOVE STAIR NOSING.</text>
<!-- joist notes -->
<text transform="translate(178,447) rotate(-90)" textLength="199" lengthAdjust="spacingAndGlyphs" style="font-size:12px">11 7/8" TJI 560 CEILING JOIST</text>
<text transform="translate(193,447) rotate(-90)" textLength="154" lengthAdjust="spacingAndGlyphs" style="font-size:12px">@ 16" O.C. WITH SIMPSON</text>
<text transform="translate(208,447) rotate(-90)" textLength="132" lengthAdjust="spacingAndGlyphs" style="font-size:12px">IUS3.56/11.88 HANGER</text>
<text transform="translate(1027,447) rotate(-90)" textLength="199" lengthAdjust="spacingAndGlyphs" style="font-size:12px">11 7/8" TJI 560 CEILING JOIST</text>
<text transform="translate(1044,447) rotate(-90)" textLength="154" lengthAdjust="spacingAndGlyphs" style="font-size:12px">@ 16" O.C. WITH SIMPSON</text>
<text transform="translate(1060,447) rotate(-90)" textLength="132" lengthAdjust="spacingAndGlyphs" style="font-size:12px">IUS3.56/11.88 HANGER</text>
<text transform="translate(230,1230) rotate(-90)" textLength="143" lengthAdjust="spacingAndGlyphs" style="font-size:12px">11 7/8" TJI 560 CEILING</text>
<text transform="translate(246,1230) rotate(-90)" textLength="133" lengthAdjust="spacingAndGlyphs" style="font-size:12px">JOIST @ 16" O.C. WITH</text>
<text transform="translate(261,1230) rotate(-90)" textLength="133" lengthAdjust="spacingAndGlyphs" style="font-size:12px">SIMPSON IUS3.56/11.88</text>
<text transform="translate(276,1230) rotate(-90)" textLength="50" lengthAdjust="spacingAndGlyphs" style="font-size:12px">HANGER</text>
<text transform="translate(931,1230) rotate(-90)" textLength="143" lengthAdjust="spacingAndGlyphs" style="font-size:12px">11 7/8" TJI 560 CEILING</text>
<text transform="translate(946,1230) rotate(-90)" textLength="133" lengthAdjust="spacingAndGlyphs" style="font-size:12px">JOIST @ 16" O.C. WITH</text>
<text transform="translate(962,1230) rotate(-90)" textLength="133" lengthAdjust="spacingAndGlyphs" style="font-size:12px">SIMPSON IUS3.56/11.88</text>
<text transform="translate(977,1230) rotate(-90)" textLength="50" lengthAdjust="spacingAndGlyphs" style="font-size:12px">HANGER</text>
</g>
<!-- note leaders & joist arrows -->
<g class="k8">
<path d="M108 727H100L89 779"/>
<path d="M725 900H752L760 920"/>
<path d="M954 822H931L889 787M1057 822H1095L1138 787"/>
<path d="M1069 983H1095L1136 930"/>
<path d="M184.5 248V463M176 257L184.5 248L193 257M176 454L184.5 463L193 454"/>
<path d="M1034 248V463M1025.5 257L1034 248L1042.5 257M1025.5 454L1034 463L1042.5 454"/>
<path d="M256 1066V1250M247.5 1075L256 1066L264.5 1075M247.5 1241L256 1250L264.5 1241"/>
<path d="M958 1066V1250M949.5 1075L958 1066L966.5 1075M949.5 1241L958 1250L966.5 1241"/>
</g>

<!-- room labels -->
<g class="r">
<text x="282" y="347" textLength="90" lengthAdjust="spacingAndGlyphs">BEDROOM 3</text>
<text x="564" y="312" textLength="68" lengthAdjust="spacingAndGlyphs">LAUNDRY</text><text x="564" y="332" textLength="44" lengthAdjust="spacingAndGlyphs">ROOM</text>
<text x="743" y="302" textLength="60" lengthAdjust="spacingAndGlyphs">WALK-IN</text><text x="743" y="322" textLength="57" lengthAdjust="spacingAndGlyphs">CLOSET</text>
<text x="931" y="351" textLength="90" lengthAdjust="spacingAndGlyphs">BEDROOM 2</text>
<text x="151" y="634" textLength="58" lengthAdjust="spacingAndGlyphs">WALK-IN</text><text x="151" y="654" textLength="57" lengthAdjust="spacingAndGlyphs">CLOSET</text>
<text x="313" y="629" textLength="83" lengthAdjust="spacingAndGlyphs">BATHROOM</text>
<text x="503" y="560" textLength="42" lengthAdjust="spacingAndGlyphs" style="font-size:15px">LINEN</text>
<text x="571" y="716" textLength="68" lengthAdjust="spacingAndGlyphs">HALLWAY</text>
<text transform="translate(734,595) rotate(-90)" textLength="58" lengthAdjust="spacingAndGlyphs">CLOSET</text>
<text x="1000" y="635" textLength="83" lengthAdjust="spacingAndGlyphs">BATHROOM</text>
<text x="826" y="850" textLength="50" lengthAdjust="spacingAndGlyphs">FOYER</text>
<text x="1015" y="875" textLength="120" lengthAdjust="spacingAndGlyphs">WALK-IN CLOSET</text>
<text x="154" y="912" textLength="83" lengthAdjust="spacingAndGlyphs">BATHROOM</text>
<text x="289" y="867" textLength="58" lengthAdjust="spacingAndGlyphs">WALK-IN</text><text x="289" y="887" textLength="57" lengthAdjust="spacingAndGlyphs">CLOSET</text>
<text x="352" y="1173" textLength="90" lengthAdjust="spacingAndGlyphs">BEDROOM 4</text>
<text x="1073" y="1077" textLength="58" lengthAdjust="spacingAndGlyphs">MASTER</text><text x="1073" y="1096" textLength="73" lengthAdjust="spacingAndGlyphs">BEDROOM</text>
<text x="603" y="1213" textLength="120" lengthAdjust="spacingAndGlyphs">OPEN TO GRAND</text>
<text x="603" y="1234" textLength="104" lengthAdjust="spacingAndGlyphs">FOYER BELOW</text>
<text x="586" y="1395" textLength="41" lengthAdjust="spacingAndGlyphs">ROOF</text>
<text x="645" y="1395" textLength="50" lengthAdjust="spacingAndGlyphs">BELOW</text>
</g>

<!-- setback labels -->
<g style="font-size:16px">
<text x="203" y="1493" textLength="149" lengthAdjust="spacingAndGlyphs">LINE OF 20'-0" FRONT</text>
<text x="203" y="1513" textLength="111" lengthAdjust="spacingAndGlyphs">YARD SETBACK</text>
<text x="879" y="1493" textLength="149" lengthAdjust="spacingAndGlyphs">LINE OF 20'-0" FRONT</text>
<text x="880" y="1513" textLength="111" lengthAdjust="spacingAndGlyphs">YARD SETBACK</text>
<text transform="translate(25,1580) rotate(-90)" textLength="133" lengthAdjust="spacingAndGlyphs">LINE OF 8'-0" SIDE</text>
<text transform="translate(45,1580) rotate(-90)" textLength="111" lengthAdjust="spacingAndGlyphs">YARD SETBACK</text>
<text transform="translate(1181,1580) rotate(-90)" textLength="133" lengthAdjust="spacingAndGlyphs">LINE OF 8'-0" SIDE</text>
<text transform="translate(1201,1580) rotate(-90)" textLength="111" lengthAdjust="spacingAndGlyphs">YARD SETBACK</text>
<text transform="translate(66,45) rotate(-90)" style="font-size:14.5px">LINE OF 8'-0" SIDE YARD SETBACK</text>
<text transform="translate(1160,45) rotate(-90)" style="font-size:14.5px">LINE OF 8'-0" SIDE YARD SETBACK</text>
</g>

<!-- flitch beam note -->
<rect x="857" y="1611" width="230" height="122" fill="none" stroke="#222" stroke-width="1.1"/>
<g class="n" style="font-size:11.5px">
<text x="867" y="1627" textLength="96" lengthAdjust="spacingAndGlyphs">FLITCH BEAM 1:</text>
<text x="867" y="1643" textLength="215" lengthAdjust="spacingAndGlyphs">(4)1 3/4 x 11 7/8 PARALLAM FLUSH</text>
<text x="867" y="1658" textLength="195" lengthAdjust="spacingAndGlyphs">BM WITH (2)5/8" X 11 1/2" STEEL</text>
<text x="867" y="1674" textLength="190" lengthAdjust="spacingAndGlyphs">PLATE BOLTED THRU WITH 1/2"</text>
<text x="867" y="1690" textLength="192" lengthAdjust="spacingAndGlyphs">DIA BOLT @ 16" OC WITH NUT /</text>
<text x="867" y="1706" textLength="196" lengthAdjust="spacingAndGlyphs">WASHER STAGGERED TOP AND</text>
<text x="867" y="1721" textLength="52" lengthAdjust="spacingAndGlyphs">BOTTOM</text>
</g>

<!-- title block -->
<text x="15" y="1901" style="font-size:33px;dominant-baseline:auto" textLength="639" lengthAdjust="spacingAndGlyphs">PROPOSED SECOND FLOOR PLAN</text>
<line x1="0" y1="1913" x2="1198" y2="1913" stroke="#000" stroke-width="2.6"/>
<line x1="0" y1="1919.5" x2="1198" y2="1919.5" stroke="#000" stroke-width="1"/>
<text x="6" y="1928" style="font-size:56px;dominant-baseline:auto;fill:#fff;stroke:#111;stroke-width:1.1" textLength="747" lengthAdjust="spacingAndGlyphs">©2026 Staten Island MLS, Inc.</text>
<text x="13" y="1946" style="font-size:21px;dominant-baseline:auto" textLength="168" lengthAdjust="spacingAndGlyphs">scale: 1/4" = 1'-0"</text>
<text x="786" y="1903" style="font-size:24px;dominant-baseline:auto" textLength="265" lengthAdjust="spacingAndGlyphs">PROPOSED FLOOR AREA</text>
<text x="1082" y="1903" style="font-size:24px;dominant-baseline:auto">=</text>
<text x="1113" y="1903" style="font-size:24px;dominant-baseline:auto" textLength="97" lengthAdjust="spacingAndGlyphs">2,087 SF</text>
<rect x="0" y="1974" width="1198" height="8" fill="#000"/>
</svg>
</body></html>
